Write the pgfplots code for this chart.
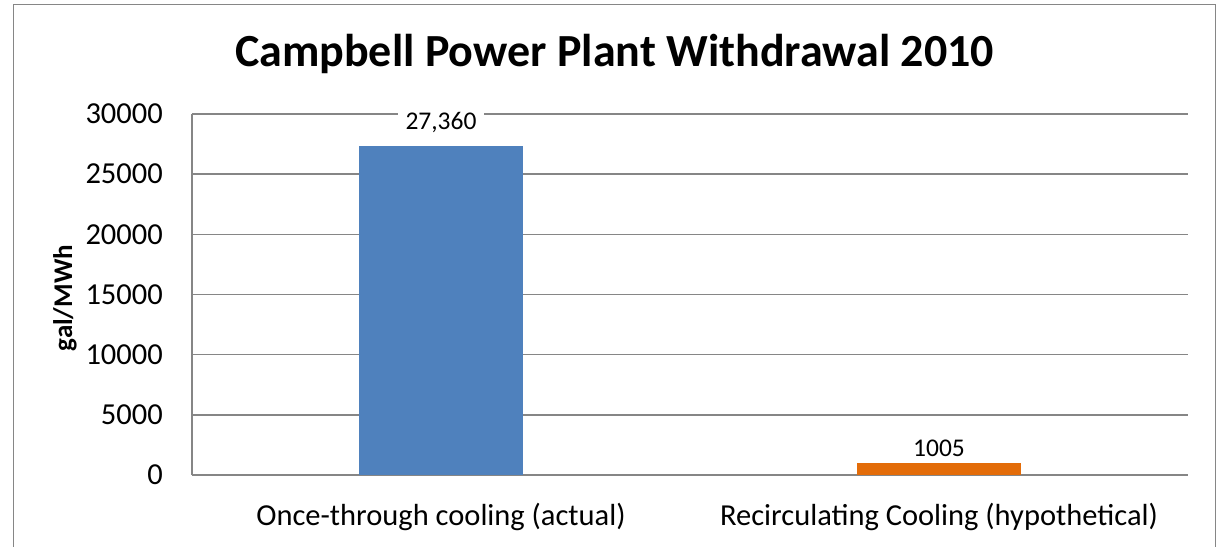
\documentclass[border=0pt]{standalone}
\usepackage{pgfplots}
\pgfplotsset{compat=1.18}
\usepackage{fontspec}
\setmainfont{Carlito}
\definecolor{barblue}{HTML}{4F81BD}
\definecolor{barorange}{HTML}{E36C09}
\definecolor{linegray}{HTML}{868686}
\begin{document}
\begin{tikzpicture}
  \path[use as bounding box] (0,0) rectangle (1217bp,547bp);
  \begin{scope}
    \clip (0,0) rectangle (1217bp,547bp);
    \draw[linegray, line width=1.5bp] (13.5bp,-5bp) |- (1215.5bp,542.5bp) -- (1215.5bp,-5bp);
  \end{scope}
  \node[anchor=base, font=\fontsize{46bp}{50bp}\selectfont\bfseries] at (614.5bp,480bp)
    {Campbell Power Plant Withdrawal 2010};
  \begin{axis}[
      at={(192bp,72bp)}, anchor=south west,
      width=996bp, height=361bp, scale only axis,
      ybar, bar width=164bp, bar shift=0pt,
      xmin=-0.5, xmax=1.5,
      ymin=0, ymax=30000,
      xtick={0,1},
      xticklabels={Once-through cooling (actual), Recirculating Cooling (hypothetical)},
      ytick={0,5000,...,30000},
      scaled y ticks=false,
      /pgf/number format/1000 sep={},
      /pgf/number format/assume math mode=true,
      axis lines=left,
      axis line style={draw=linegray, line width=1.5bp, -},
      major tick length=0pt,
      ymajorgrids,
      grid style={draw=linegray, line width=1.5bp},
      ticklabel style={font=\fontsize{30.5bp}{33bp}\selectfont},
      xticklabel style={anchor=base, yshift=-50bp, inner sep=0pt},
      yticklabel style={anchor=east, inner sep=0pt, xshift=-29bp},
      ylabel={gal/MWh},
      ylabel style={at={(axis description cs:-0.1275,0.49)}, anchor=center,
        font=\fontsize{27bp}{30bp}\selectfont\bfseries},
      nodes near coords,
      point meta=explicit symbolic,
      nodes near coords style={font=\fontsize{25.5bp}{28bp}\selectfont, fill=white,
        inner xsep=8bp, inner ysep=2bp},
    ]
    \addplot[fill=barblue, draw=none, nodes near coords style={yshift=11bp}]
      coordinates {(0,27360) [27,360]};
    \addplot[fill=barorange, draw=none, nodes near coords style={yshift=4bp}]
      coordinates {(1,1005) [1005]};
  \end{axis}
\end{tikzpicture}
\end{document}
